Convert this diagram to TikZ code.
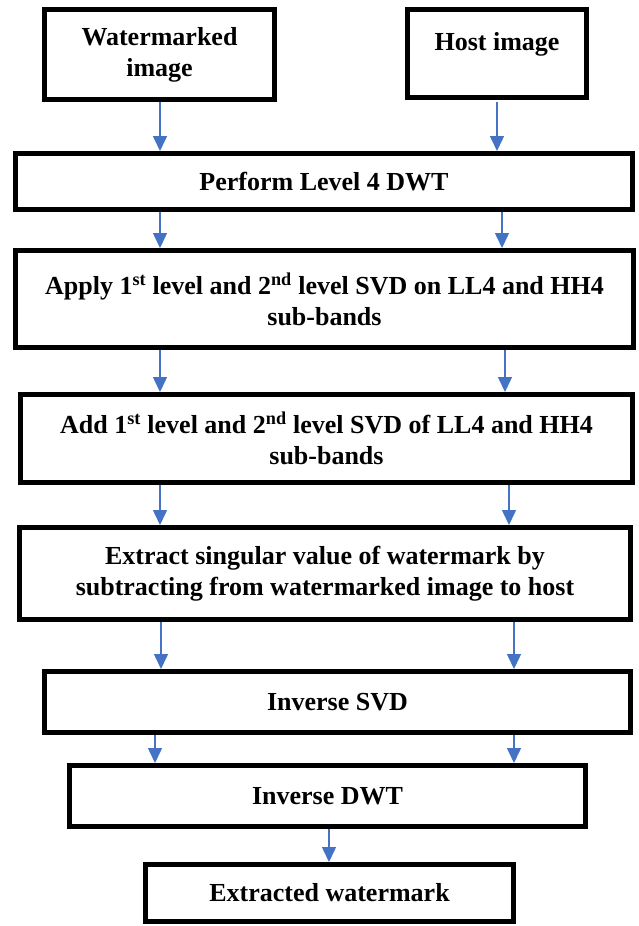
\documentclass[tikz,border=0pt]{standalone}
\usepackage{fontspec}
\setmainfont{Liberation Serif}
\usetikzlibrary{arrows.meta}
\definecolor{flowblue}{HTML}{4472C4}
\begin{document}
\begin{tikzpicture}[
x=1pt,y=-1pt,
stage/.style={rectangle,draw,line width=5pt,align=center,inner sep=0pt,
    font=\fontsize{26}{31}\selectfont\bfseries},
flow/.style={flowblue,line width=1.5pt,-{Triangle[width=14pt,length=15pt]}}
]
\useasboundingbox (0,0) rectangle (638,926);
\node[stage,minimum width=230pt,minimum height=90pt] (1) at (159.5,54.5) {Watermarked\\image};
\node[stage,minimum width=179pt,minimum height=88pt,text height=18pt,text depth=25pt] (2) at (497,53.5) {Host image};
\node[stage,minimum width=617pt,minimum height=56pt] (3) at (324,181.5) {Perform Level 4 DWT};
\node[stage,minimum width=618pt,minimum height=97pt] (4) at (324.5,299)
    {Apply 1\textsuperscript{st} level and 2\textsuperscript{nd} level SVD on LL4 and HH4\\sub-bands};
\node[stage,minimum width=612pt,minimum height=88pt] (5) at (326.5,438.5)
    {Add 1\textsuperscript{st} level and 2\textsuperscript{nd} level SVD of LL4 and HH4\\sub-bands};
\node[stage,minimum width=611pt,minimum height=92pt] (6) at (325,573.5)
    {Extract singular value of watermark by\\subtracting from watermarked image to host};
\node[stage,minimum width=586pt,minimum height=61pt] (7) at (337.5,702) {Inverse SVD};
\node[stage,minimum width=516pt,minimum height=61pt] (8) at (327.5,796) {Inverse DWT};
\node[stage,minimum width=368pt,minimum height=57pt] (9) at (329.5,893) {Extracted watermark};

\foreach \a/\b/\xl/\xr in {1/3/160/497,3/4/160/502,4/5/160/505,5/6/160/509,6/7/161/514,7/8/155/514}{
    \coordinate (l) at (\xl,0);
    \coordinate (r) at (\xr,0);
    \draw[flow] (\a.south -| l) -- (\b.north -| l);
    \draw[flow] (\a.south -| r) -- (\b.north -| r);
}
\coordinate (m) at (329,0);
\draw[flow] (8.south -| m) -- (9.north -| m);
\end{tikzpicture}
\end{document}
